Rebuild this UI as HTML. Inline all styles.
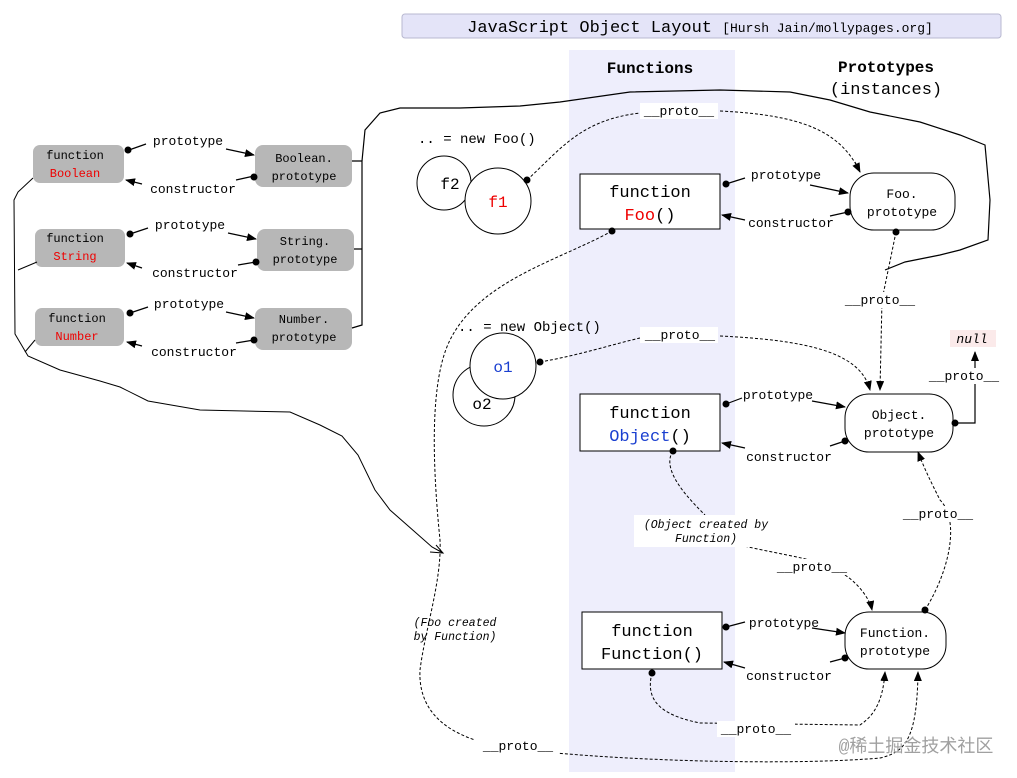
<!DOCTYPE html>
<html><head><meta charset="utf-8"><style>
html,body{margin:0;padding:0;background:#fff;}
svg{display:block;}
text{font-family:"Liberation Mono","DejaVu Sans Mono",monospace;}
</style></head><body>
<svg width="1017" height="778" viewBox="0 0 1017 778" xmlns="http://www.w3.org/2000/svg">
<defs>
<marker id="a" markerWidth="10" markerHeight="8" refX="9" refY="4" orient="auto" markerUnits="userSpaceOnUse"><path d="M0,0 L10,4 L0,8 Z" fill="#000"/></marker>
</defs>
<rect x="569" y="50" width="166" height="722" fill="#eeeefc"/>
<rect x="402" y="14" width="599" height="24" rx="3" fill="#e4e4f8" stroke="#b8b8d0"/>
<text x="700" y="32" text-anchor="middle" font-size="17"><tspan>JavaScript Object Layout </tspan><tspan font-size="13">[Hursh Jain/mollypages.org]</tspan></text>
<text x="650" y="73" text-anchor="middle" font-size="16" font-weight="bold" font-family="Liberation Sans,sans-serif">Functions</text>
<text x="886" y="72" text-anchor="middle" font-size="16" font-weight="bold" font-family="Liberation Sans,sans-serif">Prototypes</text>
<text x="886" y="94" text-anchor="middle" font-size="17">(instances)</text>

<g font-size="12" text-anchor="middle">
<rect x="33" y="145" width="91" height="38" rx="7" fill="#b7b7b7"/>
<text x="75" y="159">function</text><text x="75" y="177" fill="#e00">Boolean</text>
<rect x="255" y="145" width="97" height="42" rx="8" fill="#b7b7b7"/>
<text x="304" y="162">Boolean.</text><text x="304" y="180">prototype</text>
<rect x="35" y="229" width="90" height="38" rx="7" fill="#b7b7b7"/>
<text x="75" y="242">function</text><text x="75" y="260" fill="#e00">String</text>
<rect x="257" y="229" width="97" height="42" rx="8" fill="#b7b7b7"/>
<text x="305" y="245">String.</text><text x="305" y="263">prototype</text>
<rect x="35" y="308" width="89" height="38" rx="7" fill="#b7b7b7"/>
<text x="77" y="322">function</text><text x="77" y="340" fill="#e00">Number</text>
<rect x="255" y="308" width="97" height="42" rx="8" fill="#b7b7b7"/>
<text x="304" y="323">Number.</text><text x="304" y="341">prototype</text>
</g>
<g font-size="13" text-anchor="middle">
<text x="188" y="145">prototype</text><text x="193" y="193">constructor</text>
<text x="190" y="229">prototype</text><text x="195" y="277">constructor</text>
<text x="189" y="308">prototype</text><text x="194" y="356">constructor</text>
</g>
<g stroke="#000" stroke-width="1.2" fill="none">
<path d="M129,150 L146,144" /><path d="M226,149 L254,155" marker-end="url(#a)"/>
<path d="M254,176 L236,180"/><path d="M142,184 L126,180" marker-end="url(#a)"/>
<path d="M130,234 L148,228" /><path d="M228,233 L256,239" marker-end="url(#a)"/>
<path d="M256,262 L238,265"/><path d="M142,268 L127,263" marker-end="url(#a)"/>
<path d="M130,313 L148,307" /><path d="M226,312 L254,318" marker-end="url(#a)"/>
<path d="M254,340 L236,343"/><path d="M142,346 L127,342" marker-end="url(#a)"/>
<path d="M352,161 L362,161 L362,325 L352,328 M354,249 L362,249"/>
<path d="M362,161 L365,130 L380,113 L400,108 L460,108 L520,106 L560,102 L630,92 L720,90 L790,92 L830,100 L870,112 L920,122 L960,135 L985,145 L990,200 L988,240 L960,250 L940,255 L905,262 L885,270"/>
</g>
<g stroke="#000" stroke-width="1" fill="none">
<path d="M33,178 L18,192 L14,200 L15,334 L28,356 L60,370 L100,381 L120,387 L148,401 L200,410 L290,412 L320,425 L342,436 L358,455 L375,490 L390,510 L415,532 L432,547 L443,553"/>
<path d="M430,552 L443,553 L436,545"/>
<path d="M37,262 L18,270"/><path d="M35,340 L25,352"/>
</g>
<g fill="#000">
<circle cx="128" cy="150" r="3.5"/><circle cx="254" cy="177" r="3.5"/>
<circle cx="130" cy="234" r="3.5"/><circle cx="256" cy="262" r="3.5"/>
<circle cx="130" cy="313" r="3.5"/><circle cx="254" cy="340" r="3.5"/>
</g>

<text x="418" y="143" font-size="14">.. = new Foo()</text>
<circle cx="444" cy="183" r="27" fill="#fff" stroke="#000"/>
<text x="450" y="189" font-size="16" text-anchor="middle">f2</text>
<circle cx="498" cy="201" r="33" fill="#fff" stroke="#000"/>
<text x="498" y="207" font-size="16" text-anchor="middle" fill="#e00">f1</text>
<text x="458" y="331" font-size="14">.. = new Object()</text>
<circle cx="484" cy="395" r="31" fill="#fff" stroke="#000"/>
<text x="482" y="409" font-size="16" text-anchor="middle">o2</text>
<circle cx="503" cy="366" r="33" fill="#fff" stroke="#000"/>
<text x="503" y="372" font-size="16" text-anchor="middle" fill="#1a3fd0">o1</text>

<g stroke="#000" fill="#fff">
<rect x="580" y="174" width="140" height="55"/>
<rect x="580" y="394" width="140" height="57"/>
<rect x="582" y="612" width="140" height="57"/>
<rect x="850" y="173" width="105" height="57" rx="24"/>
<rect x="845" y="394" width="108" height="58" rx="24"/>
<rect x="845" y="612" width="101" height="57" rx="24"/>
</g>
<g font-size="17" text-anchor="middle">
<text x="650" y="197">function</text><text x="650" y="220"><tspan fill="#e00">Foo</tspan>()</text>
<text x="650" y="418">function</text><text x="650" y="441"><tspan fill="#1a3fd0">Object</tspan>()</text>
<text x="652" y="636">function</text><text x="652" y="659">Function()</text>
</g>
<g font-size="13" text-anchor="middle">
<text x="902" y="198">Foo.</text><text x="902" y="216">prototype</text>
<text x="899" y="419">Object.</text><text x="899" y="437">prototype</text>
<text x="895" y="637">Function.</text><text x="895" y="655">prototype</text>
</g>

<g font-size="13" text-anchor="middle">
<text x="786" y="179">prototype</text><text x="791" y="227">constructor</text>
<text x="778" y="399">prototype</text><text x="789" y="461">constructor</text>
<text x="784" y="627">prototype</text><text x="789" y="680">constructor</text>
</g>
<g stroke="#000" stroke-width="1.2" fill="none">
<path d="M726,184 L745,178"/><path d="M810,185 L848,193" marker-end="url(#a)"/>
<path d="M848,212 L830,216"/><path d="M745,220 L722,215" marker-end="url(#a)"/>
<path d="M726,404 L742,398"/><path d="M812,401 L845,407" marker-end="url(#a)"/>
<path d="M845,441 L830,446"/><path d="M745,448 L722,443" marker-end="url(#a)"/>
<path d="M726,627 L745,622"/><path d="M812,628 L845,633" marker-end="url(#a)"/>
<path d="M845,658 L830,662"/><path d="M745,668 L724,662" marker-end="url(#a)"/>
<path d="M955,423 L975,423 L975,352" marker-end="url(#a)"/>
</g>
<g stroke="#000" stroke-width="1" fill="none" stroke-dasharray="3,2">
<path d="M527,180 C560,150 580,120 640,113 M720,111 C800,115 840,130 860,172" />
<path d="M855,162 L860,172" marker-end="url(#a)"/>
<path d="M896,232 L882,300 L880,390" marker-end="url(#a)"/>
<path d="M540,362 C580,355 610,345 640,338 M720,336 C800,340 860,350 870,390" marker-end="url(#a)"/>
<path d="M925,610 C950,570 960,520 940,500 C930,480 925,470 918,452" marker-end="url(#a)"/>
<path d="M673,451 C660,470 690,500 705,515 M740,545 C780,555 830,560 845,575 C860,585 870,600 872,610" marker-end="url(#a)"/>
<path d="M612,231 C560,260 480,280 450,340 C430,380 432,460 440,540 C442,580 425,630 420,670 C418,710 445,730 475,740 M545,752 C650,762 800,765 880,758 C905,752 917,740 918,672" marker-end="url(#a)"/>
<path d="M652,673 C645,700 660,715 700,723 L860,725 C875,715 883,700 885,672" marker-end="url(#a)"/>
</g>
<g fill="#000">
<circle cx="527" cy="180" r="3.5"/><circle cx="612" cy="231" r="3.5"/>
<circle cx="726" cy="184" r="3.5"/><circle cx="848" cy="212" r="3.5"/>
<circle cx="896" cy="232" r="3.5"/><circle cx="540" cy="362" r="3.5"/>
<circle cx="726" cy="404" r="3.5"/><circle cx="845" cy="441" r="3.5"/>
<circle cx="955" cy="423" r="3.5"/><circle cx="673" cy="451" r="3.5"/>
<circle cx="726" cy="627" r="3.5"/><circle cx="845" cy="658" r="3.5"/>
<circle cx="925" cy="610" r="3.5"/><circle cx="652" cy="673" r="3.5"/>
</g>

<g font-size="13" text-anchor="middle">
<rect x="640" y="103" width="78" height="16" fill="#fff"/><text x="679" y="115">__proto__</text>
<rect x="640" y="327" width="78" height="16" fill="#fff"/><text x="680" y="339">__proto__</text>
<rect x="845" y="292" width="72" height="16" fill="#fff"/><text x="880" y="304">__proto__</text>
<rect x="925" y="368" width="78" height="16" fill="#fff"/><text x="964" y="380">__proto__</text>
<rect x="902" y="506" width="72" height="16" fill="#fff"/><text x="938" y="518">__proto__</text>
<rect x="773" y="559" width="78" height="16" fill="#fff"/><text x="812" y="571">__proto__</text>
<rect x="717" y="721" width="78" height="16" fill="#fff"/><text x="756" y="733">__proto__</text>
<rect x="478" y="738" width="80" height="16" fill="#fff"/><text x="518" y="750">__proto__</text>
<rect x="950" y="330" width="46" height="17" fill="#fbeaea"/>
<text x="972" y="343" font-style="italic">null</text>
</g>
<g font-size="11.5" font-style="italic" text-anchor="middle">
<rect x="634" y="515" width="146" height="32" fill="#fff"/>
<text x="706" y="528">(Object created by</text><text x="706" y="542">Function)</text>
<text x="455" y="626">(Foo created</text><text x="455" y="640">by Function)</text>
</g>
<text x="916" y="752" font-size="18" text-anchor="middle" fill="#a0a0a0" font-family="Liberation Sans,'Noto Sans CJK SC',sans-serif">@稀土掘金技术社区</text>
</svg>
</body></html>
